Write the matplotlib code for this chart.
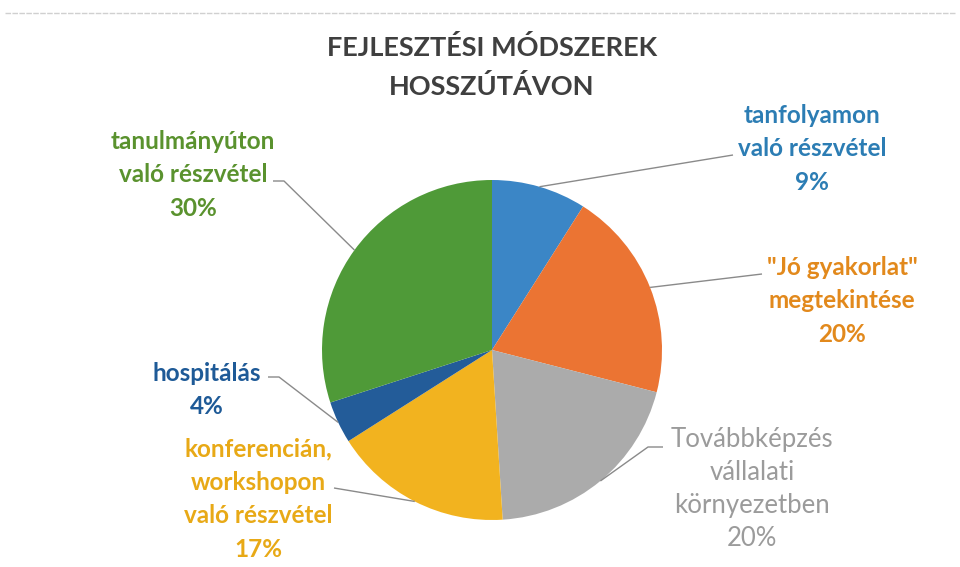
import numpy as np
import matplotlib.pyplot as plt

# slices, clockwise from 12 o'clock
labels = ['tanfolyamon\nvaló részvétel',
          '"Jó gyakorlat"\nmegtekintése',
          'Továbbképzés\nvállalati\nkörnyezetben',
          'konferencián,\nworkshopon\nvaló részvétel',
          'hospitálás',
          'tanulmányúton\nvaló részvétel']
shares = [9, 20, 20, 17, 4, 30]
colors = ['#3B86C6', '#EB7433', '#ABABAB', '#F2B31F', '#235C99', '#4F9A38']
text_colors = ['#2C7DB4', '#E2891C', '#9B9B9B', '#E8A916', '#1E5A97', '#5A922E']
bold = [True, True, False, True, True, True]

W, H = 960, 567
fig = plt.figure(figsize=(9.6, 5.67), dpi=100)
ax = fig.add_axes([0, 0, 1, 1])

cx, cy, r = 492, H - 350, 170
wedges, _ = ax.pie(shares, colors=colors, startangle=90, counterclock=False,
                   center=(cx, cy), radius=r, frame=True,
                   wedgeprops=dict(linewidth=0))
ax.set_xlim(0, W)
ax.set_ylim(0, H)
ax.set_aspect('equal')
ax.axis('off')

# label block centre and leader-line points (image pixels, y down)
label_pos = [(812, 149), (842, 301), (752, 489), (258, 499), (207, 390), (193, 175)]
leader_pts = [[(733, 155)],
              [(762, 274)],
              [(663, 447), (648, 447)],
              [(334, 488)],
              [(268, 377), (279, 377)],
              [(273, 181), (284, 181)]]

for w, lab, share, tc, b, (lx, ly), pts in zip(wedges, labels, shares, text_colors,
                                               bold, label_pos, leader_pts):
    ang = np.deg2rad((w.theta1 + w.theta2) / 2)
    ex, ey = cx + r * np.cos(ang), cy + r * np.sin(ang)
    xs = [p[0] for p in pts] + [ex]
    ys = [H - p[1] for p in pts] + [ey]
    ax.plot(xs, ys, color='#8A8A8A', lw=1.0, solid_capstyle='butt')
    ax.text(lx, H - ly, f'{lab}\n{share}%', ha='center', va='center',
            color=tc, fontsize=17.5 if b else 18.5,
            fontweight='bold' if b else 'normal',
            family='Lato', linespacing=1.55 if b else 1.4)

ax.text(492, H - 67, 'FEJLESZTÉSI MÓDSZEREK\nHOSSZÚTÁVON', ha='center', va='center',
        color='#3F3F3F', fontsize=19.5, fontweight='bold', family='Lato',
        linespacing=1.7)

# faint frame edge at the top of the scan
ax.plot([5, 955], [H - 13, H - 13], color='#D0D0D0', lw=1, ls=(0, (4, 1)))

fig.savefig('out.png', dpi=100)
